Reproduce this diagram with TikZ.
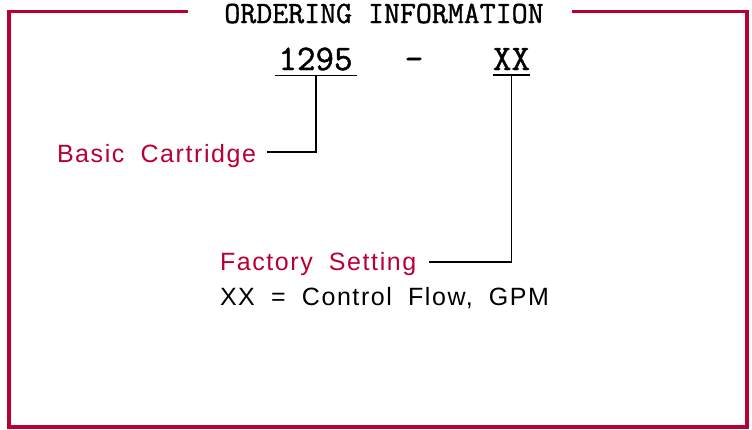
\documentclass[tikz,border=0pt]{standalone}
\usepackage{fontspec}
\usepackage{tikz}
\usetikzlibrary{positioning,calc}
\newfontfamily\cadfont[LetterSpace=6.3,WordSpace=1.9]{Liberation Sans}
\newfontfamily\codefont[FakeBold=1.2]{Latin Modern Mono}
\definecolor{framered}{RGB}{184,0,50}

\begin{document}
\begin{tikzpicture}[x=1pt,y=-1pt,
	every node/.style={inner sep=0pt,outer sep=0pt},
	code/.style={font=\codefont\fontsize{36}{36}\selectfont,anchor=base},
	note/.style={font=\cadfont\fontsize{25}{25}\selectfont,anchor=base west},
	lead/.style={line width=1.4pt,black}]
	\useasboundingbox (0,0) rectangle (752,429);
	% outer frame with gap for the title
	\draw[framered,line width=3.8pt] (188,11.5) -- (9,11.5) -- (9,427) -- (747,427) -- (747,11.5) -- (572,11.5);
	\node[font=\codefont\fontsize{31}{31}\selectfont,anchor=base] (title) at (384,23) {ORDERING INFORMATION};

	\node[code] (part) at (315.5,70) {1295};
	\node[code] (dash) at (414,70) {\textendash};
	\node[code] (opt) at (511.5,70) {XX};
	\draw[lead] ([xshift=-3pt,yshift=-5pt]part.south west) coordinate (pl) -- ([xshift=4pt,yshift=-5pt]part.south east) coordinate (pr);
	\draw[lead] ([yshift=-5pt]opt.south west) coordinate (ol) -- ([yshift=-5pt]opt.south east) coordinate (or);

	\node[note,text=framered] (basic) at (57,162) {Basic Cartridge};
	\node[note,text=framered] (factory) at (220,270) {Factory Setting};
	\node[note] (flow) at (220,305) {XX = Control Flow, GPM};

	\coordinate (pm) at ($(pl)!0.5!(pr)$);
	\draw[lead] (pm) |- ([xshift=11pt,yshift=10pt]basic.base east);
	\draw[lead] (opt.south |- ol) |- ([xshift=13pt,yshift=8pt]factory.base east);
\end{tikzpicture}
\end{document}
